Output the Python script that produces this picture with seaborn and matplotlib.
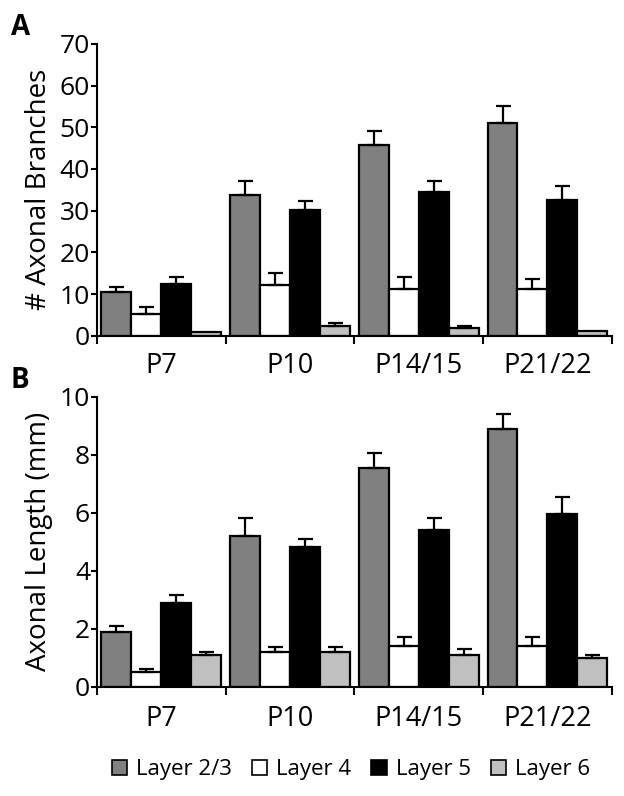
import pandas as pd
import seaborn as sns
import matplotlib.pyplot as plt
from matplotlib.patches import Patch

#%% Data
ages = ["P7", "P10", "P14/15", "P21/22"]
layers = ["Layer 2/3", "Layer 4", "Layer 5", "Layer 6"]
colors = ["#808080", "#ffffff", "#000000", "#c0c0c0"]

# A: number of axonal branches (mean, SEM)
branch_l23 = [10.5, 33.7, 45.7, 51.0]
branch_l4 = [5.2, 12.3, 11.2, 11.2]
branch_l5 = [12.4, 30.2, 34.4, 32.6]
branch_l6 = [1.0, 2.4, 1.8, 1.1]
branch_err_l23 = [1.2, 3.5, 3.3, 4.0]
branch_err_l4 = [1.7, 2.8, 2.8, 2.4]
branch_err_l5 = [1.6, 2.2, 2.8, 3.4]
branch_err_l6 = [0.0, 0.6, 0.6, 0.0]

# B: axonal length in mm (mean, SEM)
length_l23 = [1.9, 5.2, 7.55, 8.9]
length_l4 = [0.5, 1.2, 1.4, 1.4]
length_l5 = [2.87, 4.8, 5.4, 5.95]
length_l6 = [1.1, 1.2, 1.1, 1.0]
length_err_l23 = [0.2, 0.6, 0.5, 0.5]
length_err_l4 = [0.12, 0.18, 0.3, 0.3]
length_err_l5 = [0.3, 0.3, 0.4, 0.6]
length_err_l6 = [0.1, 0.18, 0.2, 0.1]


def make_df(vals, errs):
    rows = []
    for layer, v, e in zip(layers, vals, errs):
        for age, vi, ei in zip(ages, v, e):
            rows.append({"age": age, "layer": layer, "value": vi, "err": ei})
    return pd.DataFrame(rows)


df_a = make_df([branch_l23, branch_l4, branch_l5, branch_l6],
               [branch_err_l23, branch_err_l4, branch_err_l5, branch_err_l6])
df_b = make_df([length_l23, length_l4, length_l5, length_l6],
               [length_err_l23, length_err_l4, length_err_l5, length_err_l6])

#%% Style
sns.set_style("ticks")
plt.rcParams['font.family'] = ['Open Sans', 'DejaVu Sans']
plt.rcParams['axes.linewidth'] = 1.5
for key in ['text.color', 'axes.labelcolor', 'axes.edgecolor',
            'xtick.color', 'ytick.color']:
    plt.rcParams[key] = 'black'


def draw_panel(ax, df, ylim, yticks, ylabel, xpad):
    sns.barplot(data=df, x="age", y="value", hue="layer", order=ages,
                hue_order=layers, palette=colors, saturation=1,
                width=0.93, gap=0, edgecolor="black", linewidth=1.6,
                errorbar=None, legend=False, ax=ax)
    for layer, cont in zip(layers, ax.containers):
        errs = df[df["layer"] == layer].set_index("age").loc[ages, "err"].values
        for bar, e in zip(cont, errs):
            if e <= 0:
                continue
            x = bar.get_x() + bar.get_width() / 2
            h = bar.get_height()
            ax.errorbar(x, h, yerr=[[0], [e]], fmt="none", ecolor="black",
                        elinewidth=1.6, capsize=5.4, capthick=1.6, zorder=1)
    ax.set_xlim(-0.5, 3.5)
    ax.set_ylim(*ylim)
    ax.set_yticks(yticks)
    ax.set_xticks([-0.5, 0.5, 1.5, 2.5, 3.5], minor=True)
    ax.tick_params(axis="x", which="major", length=0, pad=xpad, labelsize=19.5)
    ax.tick_params(axis="x", which="minor", length=6, width=1.5, direction="out")
    ax.tick_params(axis="y", length=4.5, width=1.5, pad=0.5, labelsize=19)
    ax.set_xlabel("")
    ax.set_ylabel(ylabel, fontsize=20, labelpad=5)
    sns.despine(ax=ax)


fig = plt.figure(figsize=(6.24, 7.96), dpi=100)
ax_a = fig.add_axes([0.1554, 0.578, 0.825, 0.367])
ax_b = fig.add_axes([0.1554, 0.1373, 0.825, 0.3644])

draw_panel(ax_a, df_a, (0, 70), range(0, 71, 10), "# Axonal Branches", 11.5)
draw_panel(ax_b, df_b, (0, 10), range(0, 11, 2), "Axonal Length (mm)", 13.5)

fig.text(0.017, 0.956, "A", fontsize=20, fontweight="bold", va="baseline")
fig.text(0.017, 0.5126, "B", fontsize=20, fontweight="bold", va="baseline")

handles = [Patch(facecolor=c, edgecolor="black", linewidth=1.2) for c in colors]
fig.legend(handles, layers, loc="center", bbox_to_anchor=(0.5625, 0.0327),
           ncol=4, frameon=False, fontsize=16, handlelength=0.68,
           handleheight=0.68, handletextpad=0.42, columnspacing=0.9)

fig.savefig("out.png", dpi=100)
